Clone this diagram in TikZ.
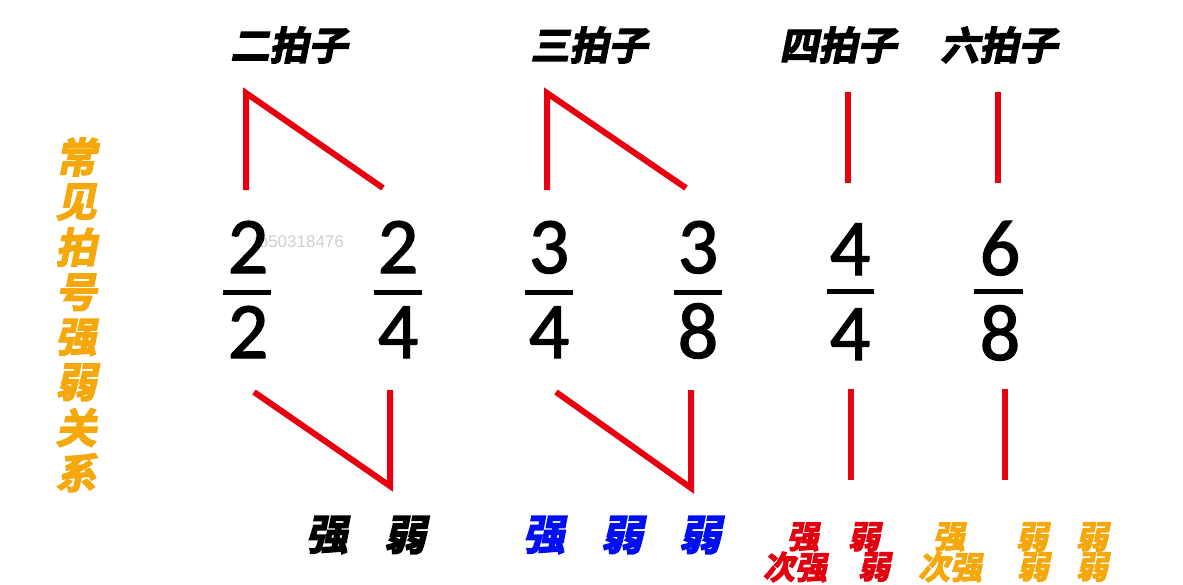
\documentclass[tikz,border=0pt]{standalone}
\usepackage{fontspec}
\newfontfamily\cjk{Noto Sans CJK SC Bold}[FakeSlant=0.2,FakeBold=3.5]
\newfontfamily\numf{Carlito}[FakeBold=1.6]
\newfontfamily\wmf{Liberation Sans}
\definecolor{lred}{HTML}{E8000E}
\definecolor{orng}{HTML}{F5A80C}
\definecolor{tblue}{HTML}{0010F0}
\definecolor{tred}{HTML}{E3000F}
\definecolor{wmgray}{HTML}{CFCFCF}
\tikzset{
  title/.style={font=\cjk\fontsize{39}{39}\selectfont, text=black, inner sep=0pt},
  side/.style={font=\cjk\fontsize{41}{41}\selectfont, text=orng, inner sep=0pt},
  big/.style={font=\cjk\fontsize{42}{42}\selectfont, inner sep=0pt},
  small/.style={font=\cjk\fontsize{32}{32}\selectfont, inner sep=0pt},
  digit/.style={font=\numf\fontsize{80}{80}\selectfont, text=black, inner sep=0pt, anchor=base},
  fbar/.style={line width=5pt, black},
  beat/.style={line width=6pt, lred, line join=miter, line cap=butt},
  wm/.style={font=\wmf\fontsize{17}{17}\selectfont, text=wmgray, inner sep=0pt},
}
\begin{document}
\begin{tikzpicture}[x=1pt,y=-1pt]
\useasboundingbox (0,0) rectangle (1183,584);
\fill[white] (0,0) rectangle (1183,584);

% titles
\node[title] (t2) at (289,45) {二拍子};
\node[title] (t3) at (589,45) {三拍子};
\node[title] (t4) at (838,45) {四拍子};
\node[title] (t6) at (999,45) {六拍子};

% side text
\foreach \c [count=\i] in {常,见,拍,号,强,弱,关,系} {
  \node[side] (s\i) at (76,{157+45.1*(\i-1)}) {\c};
}

% watermark (partly hidden by the digit, as in the source)
\node[wm] (wmk) at (299,241) {tb50318476};

% fractions
\node[digit] (n1) at (248,273) {2};
\node[digit] (d1) at (248,358) {2};
\coordinate (b1l) at (223,292); \coordinate (b1r) at (271,292);
\draw[fbar] (b1l) -- (b1r);

\node[digit] (n2) at (398,273) {2};
\node[digit] (d2) at (398,358) {4};
\coordinate (b2l) at (374,292); \coordinate (b2r) at (422,292);
\draw[fbar] (b2l) -- (b2r);

\node[digit] (n3) at (549,273) {3};
\node[digit] (d3) at (549,358) {4};
\coordinate (b3l) at (525,292); \coordinate (b3r) at (573,292);
\draw[fbar] (b3l) -- (b3r);

\node[digit] (n4) at (698,273) {3};
\node[digit] (d4) at (698,358) {8};
\coordinate (b4l) at (674,292); \coordinate (b4r) at (722,292);
\draw[fbar] (b4l) -- (b4r);

\node[digit] (n5) at (850,275) {4};
\node[digit] (d5) at (850,360) {4};
\coordinate (b5l) at (827,291); \coordinate (b5r) at (874,291);
\draw[fbar] (b5l) -- (b5r);

\node[digit] (n6) at (1000,275) {6};
\node[digit] (d6) at (1000,360) {8};
\coordinate (b6l) at (974,291); \coordinate (b6r) at (1023,291);
\draw[fbar] (b6l) -- (b6r);

% beat lines - duple
\coordinate (a1) at (246,190); \coordinate (a2) at (246,93); \coordinate (a3) at (383,188);
\draw[beat] (a1) -- (a2) -- (a3);
\coordinate (a4) at (254,392); \coordinate (a5) at (390,486); \coordinate (a6) at (390,390);
\draw[beat] (a4) -- (a5) -- (a6);

% triple
\coordinate (c1) at (547,190); \coordinate (c2) at (547,93); \coordinate (c3) at (686,188);
\draw[beat] (c1) -- (c2) -- (c3);
\coordinate (c4) at (556,392); \coordinate (c5) at (691,488); \coordinate (c6) at (691,390);
\draw[beat] (c4) -- (c5) -- (c6);

% quadruple
\coordinate (q1) at (848,92); \coordinate (q2) at (848,183);
\draw[beat] (q1) -- (q2);
\coordinate (q3) at (851,389); \coordinate (q4) at (851,480);
\draw[beat] (q3) -- (q4);

% sextuple
\coordinate (x1) at (998,92); \coordinate (x2) at (998,183);
\draw[beat] (x1) -- (x2);
\coordinate (x3) at (1005,389); \coordinate (x4) at (1005,480);
\draw[beat] (x3) -- (x4);

% bottom labels
\node[big, text=black] (l21) at (327,535) {强};
\node[big, text=black] (l22) at (405,535) {弱};

\node[big, text=tblue] (l31) at (544,535) {强};
\node[big, text=tblue] (l32) at (622,535) {弱};
\node[big, text=tblue] (l33) at (700,535) {弱};

\node[small, text=tred] (l41) at (803,537) {强};
\node[small, text=tred] (l42) at (864,537) {弱};
\node[small, text=tred] (l43) at (795,567) {次强};
\node[small, text=tred] (l44) at (874,567) {弱};

\node[small, text=orng] (l61) at (949,537) {强};
\node[small, text=orng] (l62) at (1032,537) {弱};
\node[small, text=orng] (l63) at (1092,537) {弱};
\node[small, text=orng] (l64) at (950,567) {次强};
\node[small, text=orng] (l65) at (1033,567) {弱};
\node[small, text=orng] (l66) at (1092,567) {弱};
\end{tikzpicture}
\end{document}
